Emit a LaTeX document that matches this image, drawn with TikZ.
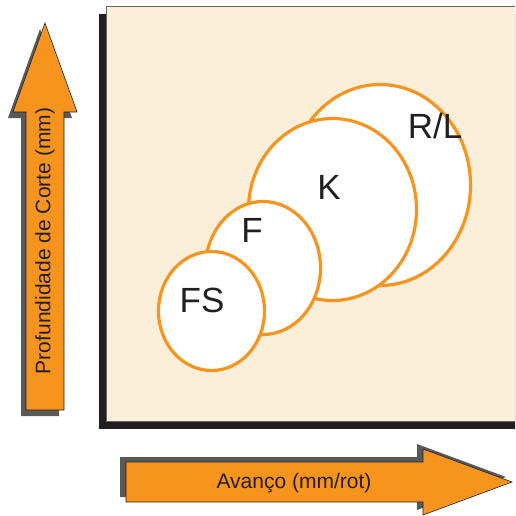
\documentclass[tikz,border=0pt]{standalone}
\usepackage{fontspec}
\setmainfont{Liberation Sans}
\usetikzlibrary{shapes.geometric}
\definecolor{orng}{RGB}{247,148,29}
\definecolor{beige}{RGB}{252,239,217}
\definecolor{ink}{RGB}{35,31,32}
\tikzset{blob/.style={ellipse,draw=orng,line width=3.2pt,fill=white,inner sep=0pt},
  tag/.style={font=\fontsize{35}{40}\selectfont,text=ink,anchor=base,inner sep=0pt},
  arrbody/.style={fill=orng,draw=ink,line width=0.6pt},
  arrshadow/.style={fill=black!65},
  axtext/.style={font=\fontsize{21}{25}\selectfont,text=ink}}
\begin{document}
\begin{tikzpicture}[x=1pt,y=-1pt]
\useasboundingbox (0,0) rectangle (515,516);
\clip (0,0) rectangle (515,516);
% frame with shadow
\fill[ink] (99,14) rectangle (540,429);
\draw[fill=beige,draw=black!60,line width=0.8pt] (106,6) rectangle (540,421);
% the four regions
\node[blob,minimum width=181,minimum height=201] (rl) at (380,185) {};
\node[blob,minimum width=168,minimum height=182] (k) at (332.5,209.5) {};
\node[blob,minimum width=115,minimum height=133] (f) at (263,268) {};
\node[blob,minimum width=106,minimum height=119] (fs) at (211.5,311) {};
\node[tag] (rltag) at (435,138) {R/L};
\node[tag] (ktag) at (329,199) {K};
\node[tag] (ftag) at (252,242) {F};
\node[tag] (fstag) at (202,312) {FS};
% vertical arrow
\fill[arrshadow,shift={(-5,6)}] (26,410) -- (26,112) -- (13,112) -- (45,23) -- (77,112) -- (64,112) -- (64,410) -- cycle;
\draw[arrbody] (26,410) -- (26,112) -- (13,112) -- (45,23) -- (77,112) -- (64,112) -- (64,410) -- cycle;
\node[axtext,rotate=90] (ylab) at (45,241) {Profundidade de Corte (mm)};
% horizontal arrow
\fill[arrshadow,shift={(-6,-5)}] (126,462) -- (423,462) -- (423,449) -- (512,482) -- (423,515) -- (423,502) -- (126,502) -- cycle;
\draw[arrbody] (126,462) -- (423,462) -- (423,449) -- (512,482) -- (423,515) -- (423,502) -- (126,502) -- cycle;
\node[axtext] (xlab) at (294,483) {Avanço (mm/rot)};
\end{tikzpicture}
\end{document}
